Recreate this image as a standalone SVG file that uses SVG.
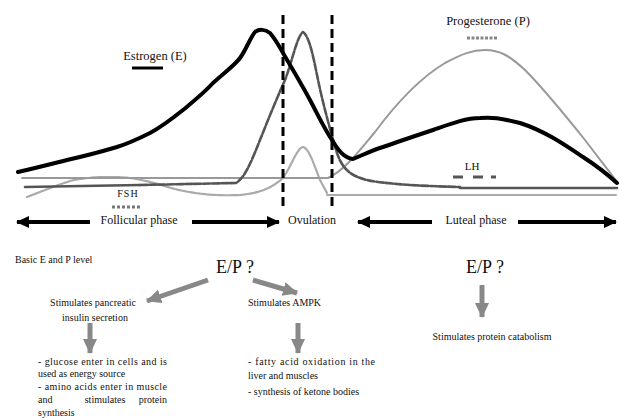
<svg xmlns="http://www.w3.org/2000/svg" width="619" height="419" viewBox="0 0 619 419">
<style>
.curve{fill:none;stroke-linejoin:round;stroke-linecap:round}
.vdash{stroke:#000;stroke-width:3;stroke-dasharray:9 5;fill:none}
.blk{stroke:#000;stroke-width:4;fill:none}
.gry{stroke:#888;stroke-width:5;fill:none}
</style>
<defs>
<marker id="bh" markerUnits="userSpaceOnUse" markerWidth="14" markerHeight="14" refX="12" refY="7" orient="auto">
<path d="M0,1 L13,7 L0,13 Z" fill="#000"/>
</marker>
<marker id="gh" markerUnits="userSpaceOnUse" markerWidth="16" markerHeight="16" refX="14" refY="8" orient="auto">
<path d="M0,1 L15,8 L0,15 Z" fill="#888"/>
</marker>
</defs>
<rect width="619" height="419" fill="#fff"/>

<g id="curves">
<path id="fsh" class="curve" stroke="#aaa" stroke-width="2.2" stroke-dasharray="3 1" d="M27,197 C40,192 55,186 70,181 C85,177 110,176 130,178 C150,181 160,185 175,189 C195,194 215,196 240,195 C260,193 272,188 283,178 C292,165 297,148 303,147 C309,148 314,165 320,180 L327,193"/>
<path class="curve" stroke="#aaa" stroke-width="2.2" d="M327,195 L533,195"/>
<path class="curve" stroke="#aaa" stroke-width="2.2" stroke-dasharray="2 1" d="M533,195 L617,195"/>
<path id="prog" class="curve" stroke="#999" stroke-width="2" d="M22,178 L328,178 C345,170 360,150 375,132 C395,105 420,78 445,63 C462,54 472,50 485,50 C500,50 510,56 525,70 C545,90 565,115 585,140 C600,160 610,172 617,182"/>
<path id="lh" class="curve" stroke="#555" stroke-width="2.6" d="M25,187 L140,185"/>
<path class="curve" stroke="#555" stroke-width="2.6" stroke-dasharray="7 2" d="M140,185 L236,183 C245,178 252,160 260,140 C268,120 276,100 285,80 C292,62 297,36 303,32 C309,36 313,55 317,75 C322,100 330,130 337,153 C342,168 350,176 367,180 C385,184 420,186 460,187"/>
<path class="curve" stroke="#555" stroke-width="2.6" d="M460,188 L617,188"/>
<path id="estrogen" class="curve" stroke="#000" stroke-width="4" d="M18,172 C40,167 55,163 67,160 C85,156 100,152 117,147 C130,143 140,138 150,133 C163,126 173,118 183,110 C195,100 205,92 213,83 C225,72 235,65 240,58 C246,50 250,38 255,32 C259,29 265,29 270,33 C276,40 279,46 283,53 C290,65 302,85 310,100 C318,115 324,128 332,140 C338,150 344,158 353,159 C365,154 373,150 383,147 C400,141 418,135 433,130 C450,124 465,118 480,118 C492,117 500,118 520,123 C545,131 565,145 583,157 C597,166 607,174 617,183"/>
</g>

<g id="ovulation-lines">
<line class="vdash" x1="283" y1="15" x2="283" y2="207"/>
<line class="vdash" x1="332" y1="15" x2="332" y2="207"/>
</g>

<g id="legend-estrogen">
<text font-family="Liberation Serif, Times New Roman, serif" font-size="12.5" fill="#111" x="155" y="60" text-anchor="middle">Estrogen (E)</text>
<line x1="132" y1="68" x2="163" y2="68" stroke="#000" stroke-width="3"/>
</g>
<g id="legend-progesterone">
<text font-family="Liberation Serif, Times New Roman, serif" font-size="12.5" fill="#111" x="488" y="25" text-anchor="middle">Progesterone (P)</text>
<line x1="467" y1="38" x2="497" y2="38" stroke="#888" stroke-width="3" stroke-dasharray="3 1.5"/>
</g>
<g id="legend-lh">
<text font-family="Liberation Serif, Times New Roman, serif" font-size="11" fill="#111" x="472" y="170" text-anchor="middle">LH</text>
<line x1="453" y1="177" x2="463" y2="177" stroke="#555" stroke-width="3"/>
<line x1="473" y1="177" x2="483" y2="177" stroke="#555" stroke-width="3"/>
<line x1="491" y1="177" x2="496" y2="177" stroke="#555" stroke-width="3"/>
</g>
<g id="legend-fsh">
<text font-family="Liberation Serif, Times New Roman, serif" font-size="10" fill="#111" x="128" y="197" text-anchor="middle" letter-spacing="1">FSH</text>
<line x1="112" y1="207" x2="142" y2="207" stroke="#777" stroke-width="3" stroke-dasharray="3 2"/>
</g>

<g id="phase-follicular"><text font-family="Liberation Serif, Times New Roman, serif" font-size="12" fill="#111" x="139" y="224" text-anchor="middle">Follicular phase</text></g>
<g id="phase-ovulation"><text font-family="Liberation Serif, Times New Roman, serif" font-size="12" fill="#111" x="312" y="224" text-anchor="middle">Ovulation</text></g>
<g id="phase-luteal"><text font-family="Liberation Serif, Times New Roman, serif" font-size="12" fill="#111" x="476" y="224" text-anchor="middle">Luteal phase</text></g>

<g id="basic"><text font-family="Liberation Serif, Times New Roman, serif" font-size="10" fill="#111" x="15" y="263">Basic E and P level</text></g>
<g id="ep1"><text font-family="Liberation Serif, Times New Roman, serif" font-size="18" fill="#111" x="235" y="273" text-anchor="middle">E/P ?</text></g>
<g id="ep2"><text font-family="Liberation Serif, Times New Roman, serif" font-size="18" fill="#111" x="485" y="273" text-anchor="middle">E/P ?</text></g>
<g id="insulin">
<text font-family="Liberation Serif, Times New Roman, serif" font-size="10" fill="#111" x="93" y="306" text-anchor="middle">Stimulates pancreatic</text>
<text font-family="Liberation Serif, Times New Roman, serif" font-size="10" fill="#111" x="95" y="321" text-anchor="middle">insulin secretion</text>
</g>
<g id="ampk"><text font-family="Liberation Serif, Times New Roman, serif" font-size="10" fill="#111" x="248" y="306">Stimulates AMPK</text></g>
<g id="catabolism"><text font-family="Liberation Serif, Times New Roman, serif" font-size="10" fill="#111" x="492" y="340" text-anchor="middle">Stimulates protein catabolism</text></g>
<g id="glucose">
<text font-family="Liberation Serif, Times New Roman, serif" font-size="10" fill="#111" x="38" y="365" textLength="129" lengthAdjust="spacing">- glucose enter in cells and is</text>
<text font-family="Liberation Serif, Times New Roman, serif" font-size="10" fill="#111" x="38" y="377">used as energy source</text>
<text font-family="Liberation Serif, Times New Roman, serif" font-size="10" fill="#111" x="38" y="390" textLength="129" lengthAdjust="spacing">- amino acids enter in muscle</text>
<text font-family="Liberation Serif, Times New Roman, serif" font-size="10" fill="#111" x="38" y="403">and</text>
<text font-family="Liberation Serif, Times New Roman, serif" font-size="10" fill="#111" x="105" y="403" text-anchor="middle">stimulates</text>
<text font-family="Liberation Serif, Times New Roman, serif" font-size="10" fill="#111" x="167" y="403" text-anchor="end">protein</text>
<text font-family="Liberation Serif, Times New Roman, serif" font-size="10" fill="#111" x="38" y="416">synthesis</text>
</g>
<g id="fatty">
<text font-family="Liberation Serif, Times New Roman, serif" font-size="10" fill="#111" x="248" y="365" textLength="127" lengthAdjust="spacing">- fatty acid oxidation in the</text>
<text font-family="Liberation Serif, Times New Roman, serif" font-size="10" fill="#111" x="248" y="379">liver and muscles</text>
<text font-family="Liberation Serif, Times New Roman, serif" font-size="10" fill="#111" x="248" y="395">- synthesis of ketone bodies</text>
</g>

<g id="connectors">
<line class="blk" x1="90" y1="222" x2="17" y2="222" marker-end="url(#bh)"/>
<line class="blk" x1="192" y1="222" x2="279" y2="222" marker-end="url(#bh)"/>
<line class="blk" x1="432" y1="222" x2="358" y2="222" marker-end="url(#bh)"/>
<line class="blk" x1="518" y1="222" x2="616" y2="222" marker-end="url(#bh)"/>
<line class="gry" x1="208" y1="280" x2="147" y2="301" marker-end="url(#gh)"/>
<line class="gry" x1="253" y1="280" x2="297" y2="293" marker-end="url(#gh)"/>
<line class="gry" x1="90" y1="323" x2="90" y2="353" marker-end="url(#gh)"/>
<line class="gry" x1="298" y1="323" x2="298" y2="353" marker-end="url(#gh)"/>
<line class="gry" x1="482" y1="285" x2="482" y2="317" marker-end="url(#gh)"/>
</g>
</svg>
